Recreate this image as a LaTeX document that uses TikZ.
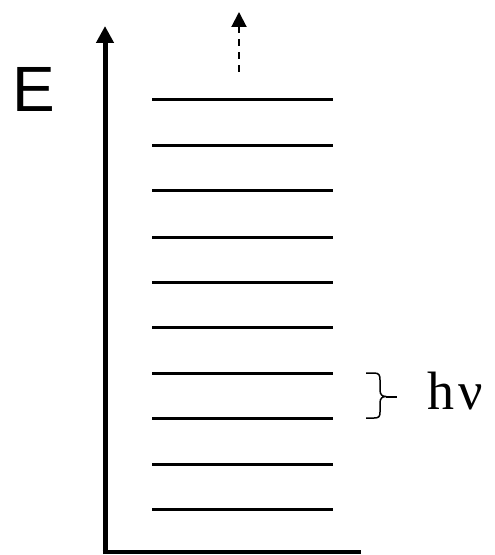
\documentclass[tikz,border=0pt]{standalone}
\usepackage{fontspec}
\setmainfont{Liberation Serif}
\newfontfamily\esans{Liberation Sans}
\usetikzlibrary{arrows.meta}
\tikzset{
  axisline/.style={line width=5bp},
  baseline/.style={line width=4bp},
  levelline/.style={line width=3bp},
  escape/.style={line width=2bp, dash pattern=on 7bp off 6bp, -{Triangle[length=15bp,width=15bp]}},
  bracestyle/.style={line width=1.5bp, line join=round},
}
\begin{document}
\begin{tikzpicture}[x=1bp,y=-1bp]
\useasboundingbox (0,0) rectangle (495,555);
% axes
\coordinate (origin) at (105,554);
\coordinate (ytop) at (105,26);
\coordinate (xl) at (102.5,552);
\coordinate (xr) at (361,552);
\draw[axisline,-{Triangle[length=17bp,width=17bp]}] (origin) -- (ytop);
\draw[baseline] (xl) -- (xr);
% levels
\foreach \i/\y in {1/100,2/146,3/191,4/237,5/282,6/327,7/373,8/418,9/464,10/509}{
  \coordinate (l\i) at (152,\y);
  \coordinate (r\i) at (333,\y);
  \draw[levelline] (l\i) -- (r\i);
}
% escape arrow
\coordinate (ea) at (239,72);
\coordinate (eb) at (239,12);
\draw[escape] (ea) -- (eb);
% brace
\coordinate (btop) at (366,373);
\coordinate (bmid) at (386,396.5);
\coordinate (btip) at (397,396.5);
\coordinate (bbot) at (366,418);
\draw[bracestyle] (btop) -- (374,373) .. controls (379,373) and (380,375) .. (380,380)
  -- (380,390) .. controls (380,394.5) and (382,396.5) .. (bmid)
  .. controls (382,396.5) and (380,398.5) .. (380,403)
  -- (380,412) .. controls (380,416.5) and (379,418) .. (374,418) -- (bbot);
\draw[line width=2bp] (bmid) -- (btip);
% labels
\node[anchor=base west, inner sep=0pt, font=\esans\fontsize{64bp}{64bp}\selectfont] (E) at (12,112) {E};
\node[anchor=base west, inner sep=0pt, font=\fontsize{54bp}{54bp}\selectfont] (hnu) at (427,409) {h\kern4bp ν};
\end{tikzpicture}
\end{document}
